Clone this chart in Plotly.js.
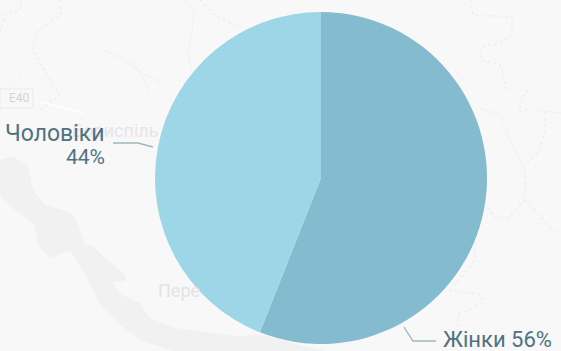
<!DOCTYPE html>
<html>
<head>
<meta charset="utf-8">
<script src="https://cdn.plot.ly/plotly-3.0.1.min.js"></script>
<style>html,body{margin:0;padding:0;background:#f8f8f8;overflow:hidden}#c{width:561px;height:351px}</style>
</head>
<body>
<div id="c"></div>
<script>
var categories = ["Жінки", "Чоловіки"];
var values = [56, 44];
var sliceColors = ["#84bbcf", "#9dd6e6"];
var textColor = "#4f7282";
var lineColor = "#9fb6bf";
var mapTexts = ["Бориспіль", "Пере"];

function px(x){return x/561;}
function py(y){return 1-y/351;}
function path(pts,close){
  return pts.map(function(p,i){return (i?"L":"M")+p[0]+" "+p[1];}).join(" ")+(close?" Z":"");
}
var river = [[0,160],[12,156],[28,165],[33,190],[45,205],[62,210],[72,214],[80,228],[85,245],[92,245],[105,258],[125,275],[125,281],[112,282],[122,295],[140,303],[150,318],[175,328],[200,331],[235,336],[262,335],[300,345],[325,351],[200,351],[172,351],[140,340],[120,325],[100,305],[85,275],[70,250],[50,258],[38,245],[35,225],[15,210],[0,195]];
var dotted = [
  [[0,33],[5,14],[20,10],[21,0]],
  [[60,0],[61,15],[36,32],[33,50],[45,72],[60,96],[50,102],[38,112]],
  [[200,0],[215,15],[240,27]],
  [[470,0],[473,15],[512,17],[512,35],[500,43],[482,47],[480,60],[500,65],[507,90]],
  [[528,90],[520,100],[520,112],[527,110]],
  [[545,112],[545,130],[540,150],[525,165]],
  [[525,170],[525,200],[508,218],[495,218],[488,208],[478,215],[475,235],[475,255],[472,265],[450,290],[482,295],[482,303],[458,315],[458,330]],
  [[525,200],[558,235]]
];
var streams = [
  [[103,50],[130,62],[145,75],[165,84]],
  [[125,62],[140,72],[150,92]],
  [[185,0],[194,12],[192,30],[188,55],[192,70]],
  [[0,100],[12,85],[22,76]],
  [[480,108],[500,115],[510,140],[525,170]],
  [[535,110],[561,113]],
  [[455,70],[470,85]]
];
var shapes = [];
function addPixelPath(pts,close,opts){
  var p = pts.map(function(q){return [px(q[0]),py(q[1])];});
  shapes.push(Object.assign({type:"path",xref:"paper",yref:"paper",path:path(p,close)},opts));
}
addPixelPath(river,true,{layer:"below",fillcolor:"#f1f1f1",line:{width:0}});
dotted.forEach(function(d){addPixelPath(d,false,{layer:"below",line:{color:"#efefef",width:1.6,dash:"dot"}});});
streams.forEach(function(d){addPixelPath(d,false,{layer:"below",line:{color:"#f1f1f1",width:1}});});
addPixelPath([[0,89],[33,89],[33,108],[0,108]],true,{layer:"below",fillcolor:"#f8f8f8",line:{color:"#eeeeee",width:1.5}});
addPixelPath([[40,102],[84,113]],false,{layer:"below",line:{color:"#ffffff",width:1.5}});
// leader lines
addPixelPath([[113,143],[138,143],[153,147]],false,{layer:"above",line:{color:lineColor,width:1.3}});
addPixelPath([[404,327],[413,341],[436,341]],false,{layer:"above",line:{color:lineColor,width:1.3}});

var font = "Roboto, Lato, sans-serif";
function ann(x,y,text,size,color,anchor,h){
  var a = {xref:"paper",yref:"paper",x:px(x),y:py(y),text:text,showarrow:false,xanchor:anchor,yanchor:"middle",borderpad:0,
          font:{family:font,size:size,color:color}};
  if(h){a.height=h;}
  return a;
}
var annotations = [
  ann(31,98,"E40",12,"#d4d4d4","right"),
  ann(159,131,mapTexts[0],18,"#e6e6e6","right"),
  ann(157,290,mapTexts[1],18,"#e4e4e4","left"),
  ann(106,133,categories[1],23,textColor,"right",24),
  ann(106,157,values[1]+"%",21,textColor,"right",22),
  ann(442,339,categories[0]+" "+values[0]+"%",22,textColor,"left",24)
];

Plotly.newPlot("c",[{
  type:"pie",
  labels:categories,
  values:values,
  sort:false,
  direction:"clockwise",
  rotation:0,
  textinfo:"none",
  hoverinfo:"label+percent",
  marker:{colors:sliceColors,line:{width:0}},
  domain:{x:[px(155),px(487)],y:[py(344),py(12)]},
  automargin:false
}],{
  width:561,height:351,
  margin:{l:0,r:0,t:0,b:0},
  paper_bgcolor:"#f8f8f8",
  showlegend:false,
  shapes:shapes,
  annotations:annotations
},{displayModeBar:false,staticPlot:true});
</script>
</body>
</html>
